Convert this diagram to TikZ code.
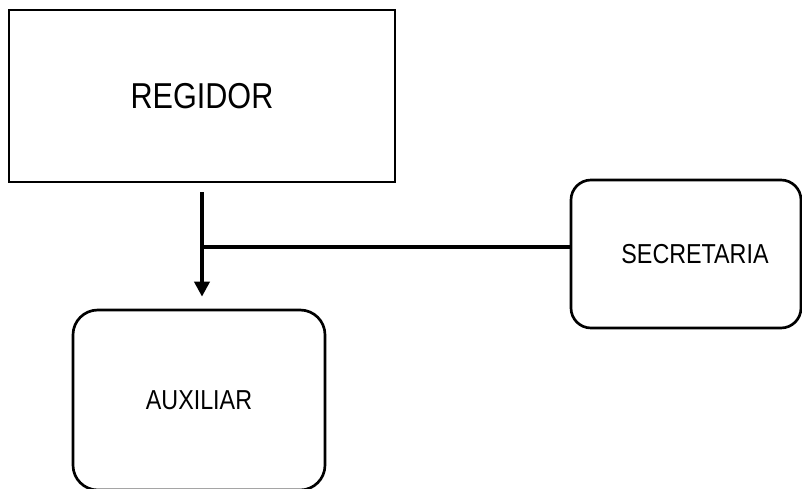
\documentclass[tikz,border=0pt]{standalone}
\usepackage{fontspec}
\setmainfont[FakeStretch=0.85]{Liberation Sans}
\usetikzlibrary{arrows.meta}

\begin{document}
\begin{tikzpicture}[thick,
 box node/.style={draw, line width=1.9pt, font=\fontsize{19.5}{22}\selectfont},
 round node/.style={box node, rounded corners=0.55cm}]
  \useasboundingbox (0,0) rectangle (20.05,-12.2);
  \node[box node, minimum width=9.65cm, minimum height=4.3cm,
   font=\fontsize{25.6}{30}\selectfont] (reg) at (5.05,-2.4) {REGIDOR};
  \node[round node, rounded corners=0.5cm, minimum width=5.75cm, minimum height=3.7cm] (sec) at (17.15,-6.35) {\hspace*{0.45cm}SECRETARIA};
  \node[round node, rounded corners=0.62cm, minimum width=6.3cm, minimum height=4.5cm] (aux) at (4.975,-10.0) {AUXILIAR};
  \coordinate (join) at ([yshift=0.175cm]sec.west);

  \draw[line width=2.8pt, -{Triangle[width=0.375cm,length=0.375cm]},
   shorten <=0.22cm, shorten >=0.3cm] (reg.south) -- (reg.south |- aux.north);
  \draw[line width=2.5pt] (join) -- (reg.south |- join);
\end{tikzpicture}
\end{document}
